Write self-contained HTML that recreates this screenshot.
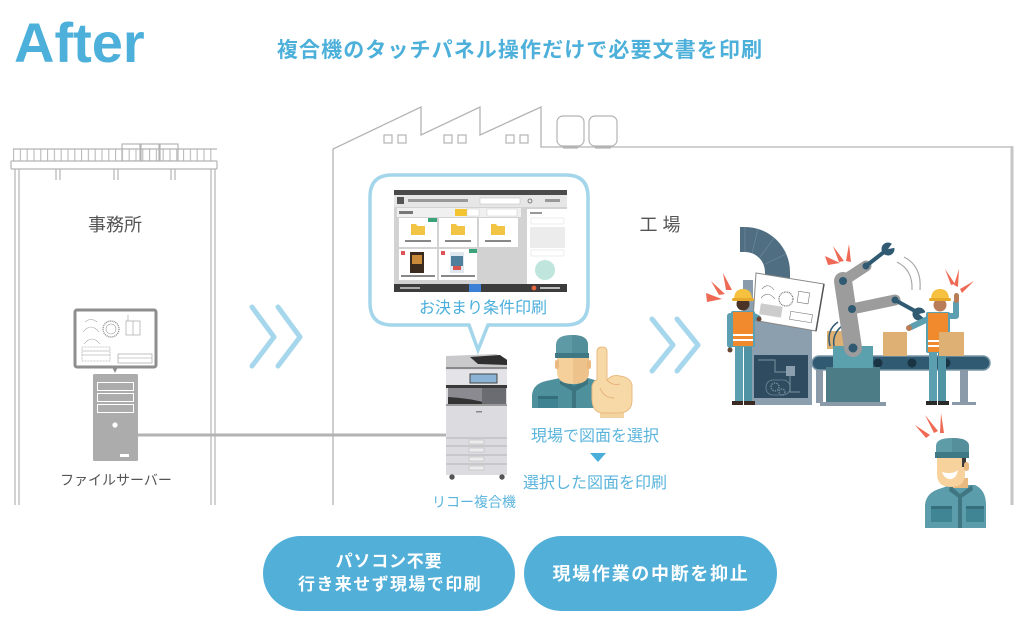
<!DOCTYPE html>
<html><head><meta charset="utf-8">
<style>
html,body{margin:0;padding:0;background:#fff;width:1024px;height:630px;overflow:hidden;}
svg{display:block}
text{font-family:"Liberation Sans","Noto Sans CJK JP",sans-serif;}
</style></head><body>
<svg width="1024" height="630" viewBox="0 0 1024 630" xmlns="http://www.w3.org/2000/svg">
<defs>
<pattern id="bal" x="13" y="149" width="6.8" height="12" patternUnits="userSpaceOnUse">
<line x1="0.6" y1="0" x2="0.6" y2="12" stroke="#b3b3b3" stroke-width="1"/>
</pattern>
</defs>

<!-- Title -->
<text x="14" y="62" font-size="56" font-weight="bold" fill="#4cb0da">After</text>
<text x="520" y="57" text-anchor="middle" font-size="21" font-weight="bold" fill="#4cb0da" letter-spacing="1.1">複合機のタッチパネル操作だけで必要文書を印刷</text>

<!-- Office building -->
<g stroke="#b3b3b3" fill="none" stroke-width="1.2">
<rect x="13" y="149" width="204" height="12" fill="url(#bal)" stroke="none"/>
<line x1="13" y1="149" x2="217" y2="149"/>
<rect x="122" y="144" width="18" height="17" fill="none"/>
<rect x="141" y="144" width="18" height="17" fill="none"/>
<rect x="160" y="144" width="18" height="17" fill="none"/>
<rect x="11" y="161" width="206" height="8" rx="1" fill="#fff"/>
<line x1="15" y1="169" x2="15" y2="505"/>
<line x1="19" y1="169" x2="19" y2="505"/>
<line x1="211" y1="169" x2="211" y2="505"/>
<line x1="215" y1="169" x2="215" y2="505"/>
<line x1="56" y1="169" x2="56" y2="180"/><line x1="60" y1="169" x2="60" y2="180"/>
<line x1="114" y1="169" x2="114" y2="180"/><line x1="118" y1="169" x2="118" y2="180"/>
<line x1="171" y1="169" x2="171" y2="180"/><line x1="175" y1="169" x2="175" y2="180"/>
</g>
<text x="115" y="231" text-anchor="middle" font-size="18" fill="#555">事務所</text>

<!-- Monitor -->
<rect x="75" y="310" width="81" height="57" rx="2" fill="#fff" stroke="#8e8e8e" stroke-width="3"/>
<g stroke="#9a9a9a" stroke-width="0.6" fill="none">
<circle cx="111" cy="329" r="8" stroke-dasharray="1.2 0.8" stroke-width="1.4"/>
<circle cx="111" cy="329" r="5"/>
<path d="M83,332 Q91,322 99,332"/><path d="M85,322 Q91,317 97,322"/><path d="M84,344 Q92,334 100,344"/>
<rect x="126" y="321" width="14" height="14"/><line x1="133" y1="321" x2="133" y2="335"/>
<line x1="128" y1="315" x2="128" y2="321"/>
<rect x="82" y="347" width="28" height="14" stroke-dasharray="1 0.5"/>
<line x1="82" y1="351" x2="110" y2="351"/><line x1="82" y1="355" x2="110" y2="355"/>
<rect x="118" y="354" width="34" height="9"/><line x1="118" y1="358" x2="152" y2="358"/>
</g>
<polygon points="112,367 118,367 115,373" fill="#8e8e8e"/>

<!-- Server -->
<rect x="93" y="374" width="45" height="87" rx="1.5" fill="#acacac"/>
<g fill="none" stroke="#fff" stroke-width="1">
<rect x="97.5" y="382.5" width="36" height="8"/>
<rect x="97.5" y="393.5" width="36" height="8"/>
<rect x="97.5" y="404.5" width="36" height="8"/>
</g>
<circle cx="115" cy="425" r="2.6" fill="#fff"/>
<rect x="120" y="454" width="9" height="3" fill="#fff"/>
<line x1="138" y1="435" x2="447" y2="435" stroke="#b3b3b3" stroke-width="3"/>
<text x="116" y="485" text-anchor="middle" font-size="14" fill="#555">ファイルサーバー</text>

<!-- Chevrons -->
<g fill="none" stroke="#a6d7ec" stroke-width="5" stroke-linecap="round" stroke-linejoin="round">
<polyline points="252,307 274,337 252,366"/>
<polyline points="278,307 300,337 278,366"/>
<polyline points="652,319 673,345 652,371"/>
<polyline points="677,319 698,345 677,371"/>
</g>

<!-- Factory outline -->
<path d="M333,505 V149 L421,107 V135 L480,107 V135 L541,107 V147 H1011" fill="none" stroke="#b3b3b3" stroke-width="1.3"/>
<line x1="1012" y1="146" x2="1012" y2="505" stroke="#c6c6c6" stroke-width="3"/>
<g fill="none" stroke="#b3b3b3" stroke-width="1.2">
<rect x="384" y="135" width="8" height="8"/><rect x="398" y="135" width="8" height="8"/>
<rect x="444" y="135" width="8" height="8"/><rect x="458" y="135" width="8" height="8"/>
<rect x="506" y="135" width="8" height="8"/><rect x="520" y="135" width="8" height="8"/>
<rect x="557" y="116" width="27" height="30" rx="6"/>
<rect x="589" y="116" width="28" height="30" rx="6"/>
<line x1="563" y1="148" x2="578" y2="148"/><line x1="595" y1="148" x2="611" y2="148"/>
</g>
<text x="660" y="231" text-anchor="middle" font-size="18" fill="#555">工 場</text>

<!-- Balloon -->
<path d="M392,175 H566 Q588,175 588,197 V303 Q588,325 566,325 H488 L478,350 L469,325 H392 Q370,325 370,303 V197 Q370,175 392,175 Z" fill="#fff" stroke="#a3d5eb" stroke-width="3.5"/>

<!-- Screen UI -->
<rect x="394" y="190" width="173" height="102" fill="#d2d2d2"/>
<rect x="394" y="190" width="173" height="5" fill="#4a4a4a"/>
<rect x="394" y="195" width="173" height="12" fill="#e6e6e6"/>
<rect x="397" y="197" width="7" height="7" fill="#555"/>
<rect x="408" y="199" width="60" height="3" fill="#999"/>
<rect x="480" y="198" width="40" height="6" fill="#fff" stroke="#bbb" stroke-width="0.5"/>
<circle cx="530" cy="201" r="2" fill="none" stroke="#666" stroke-width="0.8"/>
<rect x="545" y="199" width="15" height="3" fill="#999"/>
<rect x="397" y="208" width="124" height="9" fill="#f0f0f0"/>
<rect x="399" y="211" width="14" height="3" fill="#777"/>
<rect x="455" y="209" width="12" height="7" fill="#f4c430"/>
<rect x="467" y="209" width="12" height="7" fill="#fff" stroke="#ccc" stroke-width="0.5"/>
<rect x="487" y="209" width="30" height="7" fill="#fff" stroke="#ccc" stroke-width="0.5"/>
<g fill="#fff">
<rect x="399" y="218" width="38" height="29"/>
<rect x="439" y="218" width="38" height="29"/>
<rect x="479" y="218" width="39" height="29"/>
<rect x="399" y="249" width="38" height="31"/>
<rect x="439" y="249" width="38" height="31"/>
</g>
<g fill="#f1c543">
<path d="M411,224 h5 l1.5,2 h7.5 v9 h-14z"/>
<path d="M451,224 h5 l1.5,2 h7.5 v9 h-14z"/>
<path d="M491,224 h5 l1.5,2 h7.5 v9 h-14z"/>
</g>
<rect x="428" y="218" width="9" height="4" fill="#3aa37a"/>
<rect x="469" y="249" width="8" height="4" fill="#3aa37a"/>
<g fill="#888"><rect x="405" y="240" width="26" height="2"/><rect x="445" y="240" width="26" height="2"/><rect x="485" y="240" width="26" height="2"/>
<rect x="401" y="275" width="34" height="2"/><rect x="441" y="275" width="34" height="2"/></g>
<rect x="410" y="252" width="14" height="21" fill="#3b2a1e"/>
<rect x="412" y="255" width="10" height="9" fill="#c98a3a"/>
<rect x="450" y="252" width="14" height="21" fill="#dfe8ee"/>
<rect x="451" y="256" width="12" height="10" fill="#4f7f9a"/>
<rect x="453" y="266" width="8" height="4" fill="#d9534f"/>
<rect x="401" y="251" width="4" height="4" fill="#d55"/>
<rect x="441" y="251" width="4" height="4" fill="#d55"/>
<rect x="527" y="209" width="40" height="75" fill="#fff"/>
<rect x="530" y="212" width="12" height="2" fill="#999"/>
<rect x="531" y="218" width="33" height="6" fill="#fff" stroke="#ddd" stroke-width="0.5"/>
<rect x="530" y="227" width="35" height="21" fill="#ececec"/>
<rect x="531" y="250" width="33" height="6" fill="#fff" stroke="#ddd" stroke-width="0.5"/>
<circle cx="545" cy="270" r="10" fill="#bfe5dd"/>
<rect x="394" y="284" width="173" height="8" fill="#3c3c3c"/>
<rect x="469" y="284" width="12" height="8" fill="#3d7fd6"/>
<circle cx="534" cy="288" r="2.4" fill="#e8643c"/>
<rect x="540" y="287" width="20" height="2" fill="#bbb"/>
<rect x="400" y="287" width="20" height="2" fill="#aaa"/>
<text x="483" y="313" text-anchor="middle" font-size="16" fill="#4aaedb">お決まり条件印刷</text>

<!-- Copier -->
<rect x="446" y="364" width="61" height="111" fill="#dcdce0"/>
<path d="M446,356 L496,354 L507,359 L507,367 L446,367 Z" fill="#c9c9cc"/>
<path d="M470,357 L500,355 L507,360 L507,365 L478,364 Z" fill="#2f2f2f"/>
<rect x="446" y="367" width="61" height="2" fill="#888"/>
<rect x="446" y="370" width="61" height="15" fill="#e4e4e8"/>
<rect x="470" y="374" width="27" height="9" fill="#8ab3d6" stroke="#444" stroke-width="1"/>
<rect x="446" y="385" width="61" height="3" fill="#3a3a3a"/>
<rect x="448" y="388" width="58" height="16" fill="#8a8a90"/>
<path d="M448,397 Q470,398 490,404 H448 Z" fill="#333"/>
<path d="M482,388 H506 V404 H482 Z" fill="#6b6b72"/>
<rect x="446" y="404" width="61" height="2" fill="#999"/>
<rect x="476" y="411" width="6" height="1.5" fill="#888"/>
<g stroke="#b5b5b8" stroke-width="1">
<line x1="446" y1="438" x2="507" y2="438"/><line x1="446" y1="446" x2="507" y2="446"/>
<line x1="446" y1="455" x2="507" y2="455"/><line x1="446" y1="464" x2="507" y2="464"/>
</g>
<g fill="#ececee" stroke="#bbb" stroke-width="0.6">
<rect x="469" y="440" width="15" height="4"/><rect x="469" y="448" width="15" height="4"/>
<rect x="469" y="457" width="15" height="4"/><rect x="469" y="466" width="15" height="4"/>
</g>
<circle cx="452" cy="477" r="2.7" fill="#555"/><circle cx="502" cy="477" r="2.7" fill="#555"/>
<text x="474" y="507" text-anchor="middle" font-size="14" fill="#5ab4dc">リコー複合機</text>

<!-- Worker with finger -->
<path d="M532,408 V395 Q533,384 546,381 L560,378 H588 L598,381 V408 Z" fill="#4f909d"/>
<path d="M560,378 L574,386 L588,378 L588,384 L574,392 L560,384 Z" fill="#3c7480"/>
<rect x="572" y="389" width="4" height="19" fill="#3c7480"/>
<rect x="538" y="396" width="20" height="12" fill="#3e8392"/>
<rect x="538" y="396" width="20" height="3" fill="#336e7a"/>
<rect x="566" y="371" width="16" height="10" fill="#eab980"/>
<path d="M557,355 H589 V372 Q589,384 573,384 Q557,384 557,372 Z" fill="#f5d09b"/>
<path d="M573,355 H589 V372 Q589,384 573,384 Z" fill="#edc38b"/>
<rect x="555" y="360" width="4" height="9" rx="2" fill="#eab980"/>
<rect x="587" y="360" width="4" height="9" rx="2" fill="#eab980"/>
<path d="M556,357 V345 Q556,335 572,335 Q588,335 588,345 V357 Z" fill="#5d9aa6"/>
<path d="M572,335 Q588,335 588,345 V357 H572 Z" fill="#528f9b"/>
<rect x="555" y="353" width="34" height="5" fill="#3f7882"/>
<rect x="600" y="410" width="24" height="8" fill="#f3d3a0"/>
<path d="M597,352 Q597,347 602,347 Q607,347 607,352 V380 Q612,374 620,376 Q630,377 632,385 V400 Q632,412 620,413 H602 Q592,412 592,398 V386 Q594,380 597,380 Z" fill="#f7d9a8" stroke="#e9bb80" stroke-width="1"/>
<path d="M600,388 Q604,398 614,398 M607,380 Q612,386 620,384" fill="none" stroke="#e6b37a" stroke-width="1"/>

<text x="595" y="441" text-anchor="middle" font-size="16" fill="#5ab4dc">現場で図面を選択</text>
<polygon points="590,453 606,453 598,462" fill="#4aaedb"/>
<text x="595" y="488" text-anchor="middle" font-size="16" fill="#5ab4dc">選択した図面を印刷</text>

<!-- Factory scene -->
<path d="M740,227 H745 A45,45 0 0 1 790,272 V278 H765 V272 A20,20 0 0 0 745,252 H740 Z" fill="#4f6e82"/>
<g stroke="#6a8698" stroke-width="0.8"><line x1="745" y1="227" x2="745" y2="252"/><line x1="758" y1="229" x2="752" y2="253"/><line x1="774" y1="238" x2="760" y2="257"/><line x1="786" y1="254" x2="765" y2="264"/></g>
<rect x="743" y="280" width="10" height="40" fill="#8a9cab"/>
<rect x="750" y="300" width="62" height="105" fill="#8c9fae"/>
<rect x="754" y="355" width="54" height="43" fill="#2e4b5f"/>
<path d="M758,360 H775 V372 H790 V392 H800" fill="none" stroke="#6f8797" stroke-width="1.2"/>
<rect x="786" y="366" width="9" height="10" fill="#8c9fae"/>
<circle cx="775" cy="387" r="4" fill="none" stroke="#6f8797" stroke-width="1.5" stroke-dasharray="1.5 1"/>
<circle cx="782" cy="392" r="3" fill="none" stroke="#6f8797" stroke-width="1.5" stroke-dasharray="1.5 1"/>
<rect x="766" y="380" width="24" height="15" rx="7" fill="none" stroke="#6f8797" stroke-width="0.8"/>
<rect x="812" y="356" width="178" height="14" rx="7" fill="#2f5a72" stroke="#7b97a7" stroke-width="1.5"/>
<circle cx="878" cy="363" r="4.5" fill="#1b3443"/>
<circle cx="912" cy="363" r="4.5" fill="#1b3443"/>
<circle cx="946" cy="363" r="4.5" fill="#1b3443"/>
<rect x="960" y="370" width="8" height="33" fill="#8a9aa8"/>
<rect x="952" y="402" width="24" height="3" fill="#8a9aa8"/>
<rect x="816" y="370" width="7" height="33" fill="#8a9aa8"/>
<rect x="827" y="331" width="18" height="18" fill="#dfb074"/>
<rect x="883" y="332" width="24" height="24" fill="#dfb074"/>
<path d="M830,346 Q826,330 838,322" fill="none" stroke="#2f5a72" stroke-width="1.5"/>
<path d="M834,346 Q832,334 842,326" fill="none" stroke="#2f5a72" stroke-width="1.5"/>
<rect x="826" y="367" width="54" height="38" fill="#4c7d86"/>
<rect x="833" y="346" width="40" height="22" fill="#5aa1ad"/>
<rect x="820" y="402" width="66" height="4" fill="#8a9aa8"/>
<g stroke="#9c9c9c" stroke-linecap="round" fill="none">
<line x1="853" y1="348" x2="843" y2="281" stroke-width="18"/>
<line x1="843" y1="281" x2="866" y2="266" stroke-width="11"/>
<line x1="852" y1="309" x2="895" y2="300" stroke-width="11"/>
</g>
<g fill="#2f5a72">
<circle cx="853" cy="348" r="4.5"/><circle cx="852" cy="309" r="4"/><circle cx="843" cy="281" r="4"/>
<circle cx="866" cy="266" r="3.5"/><circle cx="895" cy="300" r="3.5"/>
</g>
<g stroke="#2f5a72" stroke-width="4" stroke-linecap="round"><line x1="866" y1="266" x2="884" y2="252"/><line x1="895" y1="300" x2="915" y2="311"/></g>
<circle cx="888" cy="249" r="6.5" fill="#2f5a72"/>
<polygon points="888,249 897,237 899,247" fill="#fff"/>
<circle cx="919" cy="314" r="6.5" fill="#2f5a72"/>
<polygon points="919,314 931,311 927,321" fill="#fff"/>
<g fill="none" stroke="#a8a8a8" stroke-width="1.2"><path d="M897,262 Q913,270 912,290"/><path d="M904,257 Q922,266 920,290"/></g>
<polygon points="756,273 824,284 816,331 753,320" fill="#fff" stroke="#888" stroke-width="1"/>
<line x1="824" y1="284" x2="816" y2="331" stroke="#555" stroke-width="1.5"/>
<g fill="none" stroke="#777" stroke-width="0.6">
<circle cx="786" cy="299" r="7" stroke-dasharray="1 0.7" stroke-width="1.2"/>
<path d="M762,289 Q768,282 774,290"/><path d="M761,298 Q768,290 775,299"/>
<rect x="798" y="292" width="11" height="11" transform="rotate(9 803 297)"/>
<rect x="760" y="305" width="22" height="11" fill="#ccc" stroke="none" transform="rotate(9 771 310)"/>
<rect x="790" y="313" width="22" height="8" transform="rotate(9 801 317)"/>
</g>
<g>
<rect x="735" y="345" width="8" height="58" fill="#5b9fb0"/>
<rect x="744" y="345" width="8" height="58" fill="#4f93a4"/>
<rect x="732" y="401" width="11" height="4" fill="#3a2a22"/>
<rect x="744" y="401" width="11" height="4" fill="#3a2a22"/>
<rect x="727" y="313" width="6" height="35" rx="3" fill="#5b9fb0"/>
<circle cx="730" cy="350" r="2.5" fill="#6b4633"/>
<path d="M750,314 L758,318" stroke="#5b9fb0" stroke-width="6" stroke-linecap="round"/>
<circle cx="759" cy="319" r="2.5" fill="#6b4633"/>
<rect x="731" y="311" width="24" height="36" rx="2" fill="#5b9fb0"/>
<rect x="733" y="312" width="20" height="34" fill="#f08a2c"/>
<rect x="733" y="334" width="20" height="2" fill="#fff"/>
<rect x="733" y="339" width="20" height="2" fill="#fff"/>
<circle cx="743" cy="304" r="6.5" fill="#4a3226"/>
<path d="M734,300 Q734,289 743,289 Q752,289 752,300 Z" fill="#f5c13e"/>
<rect x="732" y="298" width="22" height="3" rx="1.5" fill="#e8a92a"/>
</g>
<g>
<rect x="929" y="352" width="8" height="51" fill="#5b9fb0"/>
<rect x="938" y="352" width="8" height="51" fill="#4f93a4"/>
<rect x="926" y="401" width="11" height="4" fill="#2a2a2a"/>
<rect x="938" y="401" width="11" height="4" fill="#2a2a2a"/>
<path d="M930,318 L911,327" stroke="#5b9fb0" stroke-width="6" stroke-linecap="round"/>
<circle cx="909" cy="328" r="3" fill="#b87d58"/>
<path d="M948,316 L956,316 L956,303" stroke="#5b9fb0" stroke-width="6" stroke-linecap="round" stroke-linejoin="round" fill="none"/>
<rect x="954" y="293" width="5" height="10" rx="2.5" fill="#b87d58"/>
<rect x="926" y="312" width="24" height="41" rx="2" fill="#5b9fb0"/>
<rect x="928" y="313" width="20" height="39" fill="#f08a2c"/>
<rect x="928" y="340" width="20" height="2" fill="#fff"/>
<rect x="928" y="345" width="20" height="2" fill="#fff"/>
<circle cx="940" cy="305" r="6.5" fill="#b87d58"/>
<path d="M931,300 Q931,289 940,289 Q949,289 949,300 Z" fill="#f5c13e"/>
<rect x="929" y="298" width="22" height="3" rx="1.5" fill="#e8a92a"/>
</g>
<rect x="939" y="332" width="25" height="24" fill="#dfb074"/>
<g fill="#ee6a54">
<polygon points="706,293 722,299 707,302"/>
<polygon points="711,281 725,294 719,295"/>
<polygon points="723,273 732,290 726,290"/>
<polygon points="825,256 840,263 828,265"/>
<polygon points="833,246 844,261 839,262"/>
<polygon points="849,244 851,262 846,261"/>
<polygon points="945,269 951,285 955,284"/>
<polygon points="959,269 954,285 958,287"/>
<polygon points="974,281 960,289 962,293"/>
<polygon points="915,425 930,435 926,438"/>
<polygon points="925,415 934,433 938,431"/>
<polygon points="941,413 940,433 944,433"/>
</g>
<path d="M925,528 V505 Q926,492 942,488 L950,485 H975 Q986,490 986,505 V528 Z" fill="#5b9dab"/>
<path d="M950,485 L960,494 L972,485 L973,490 L960,499 L949,491 Z" fill="#3f7682"/>
<rect x="958" y="496" width="4" height="32" fill="#3f7682"/>
<rect x="931" y="506" width="21" height="16" fill="#3f8593"/>
<rect x="966" y="506" width="18" height="16" fill="#3f8593"/>
<rect x="931" y="506" width="21" height="3" fill="#356f7b"/>
<rect x="966" y="506" width="18" height="3" fill="#356f7b"/>
<rect x="953" y="478" width="15" height="10" fill="#eab980"/>
<path d="M937,457 H965 V474 Q965,487 951,487 Q937,487 937,474 Z" fill="#f7d29c"/>
<rect x="962" y="458" width="4" height="9" fill="#3a3a3a"/>
<rect x="964" y="462" width="5" height="9" rx="2.5" fill="#eab980"/>
<path d="M942,472 Q952,475 958,470 Q956,480 949,479 Q944,478 942,472 Z" fill="#fff"/>
<path d="M936,458 V446 Q936,438 952,438 Q969,438 969,446 V458 Z" fill="#5e9ca8"/>
<path d="M952,438 Q969,438 969,446 V458 H952 Z" fill="#548f9b"/>
<rect x="935" y="452" width="34" height="6" fill="#3f7985"/>

<!-- Pills -->
<rect x="263" y="536" width="252" height="75" rx="37.5" fill="#52afd8"/>
<rect x="524" y="536" width="253" height="75" rx="37.5" fill="#52afd8"/>
<text x="389" y="567" text-anchor="middle" font-size="17" font-weight="bold" fill="#fff" letter-spacing="0.8">パソコン不要</text>
<text x="390" y="590" text-anchor="middle" font-size="17" font-weight="bold" fill="#fff" letter-spacing="1.4">行き来せず現場で印刷</text>
<text x="651" y="580" text-anchor="middle" font-size="18" font-weight="bold" fill="#fff" letter-spacing="1.7">現場作業の中断を抑止</text>
</svg>
</body></html>
